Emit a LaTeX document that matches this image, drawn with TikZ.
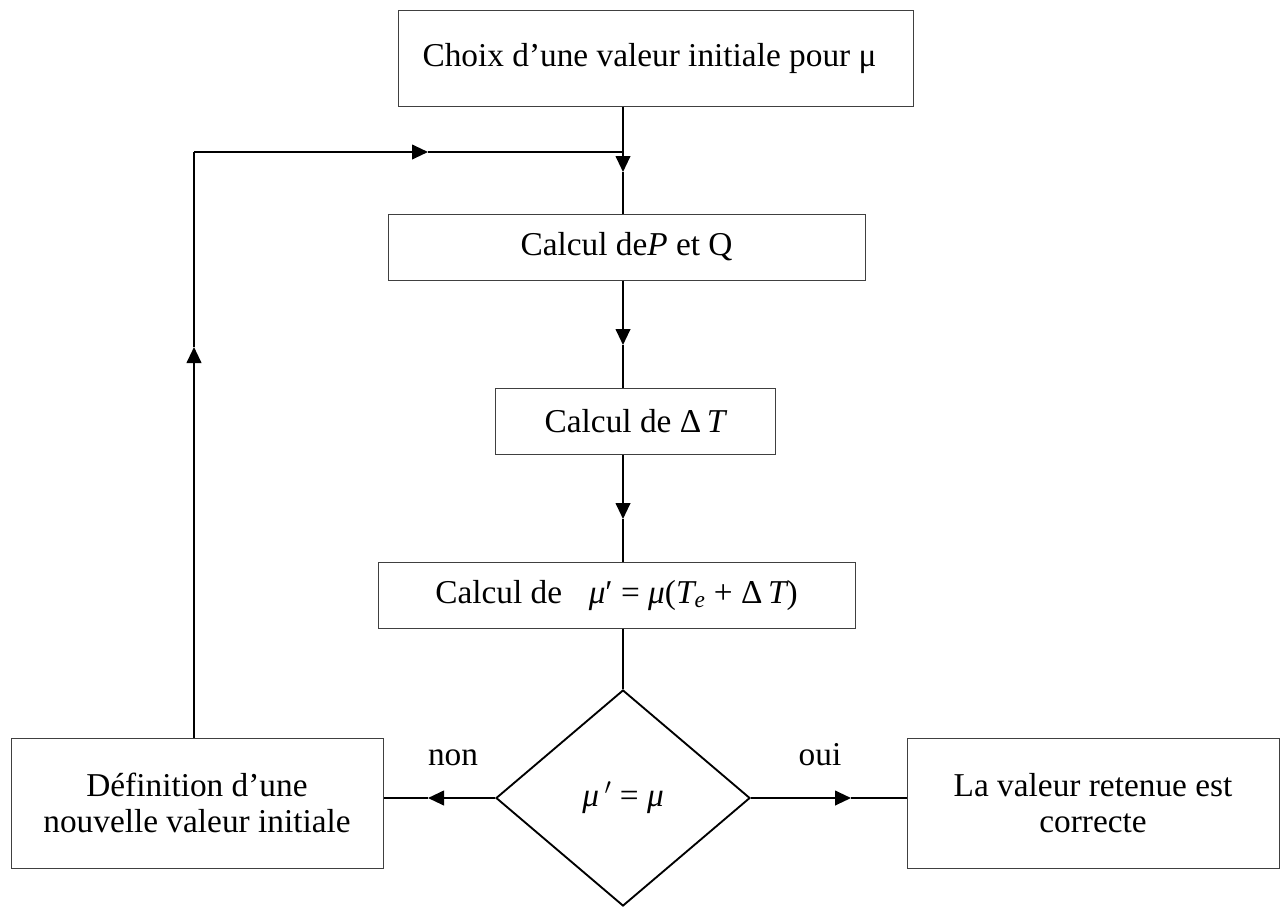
\documentclass[tikz,border=0pt]{standalone}
\usepackage{fontspec}
\setmainfont{Liberation Serif}
\usetikzlibrary{arrows.meta,shapes.geometric}
\definecolor{boxgray}{HTML}{404040}
\tikzset{
  boxnode/.style={draw=boxgray, line width=0.75pt, inner sep=0pt, align=center,
    font=\fontsize{25}{27}\selectfont},
  decnode/.style={draw=black, shape=diamond, line width=1.4pt, inner sep=0pt,
    minimum width=190.5pt, minimum height=162pt, font=\fontsize{25}{27}\selectfont},
  flow/.style={line width=1.5pt, -{Triangle[length=12pt,width=11pt]}},
  link/.style={line width=1pt},
  lbl/.style={inner sep=0pt, font=\fontsize{25}{27}\selectfont}
}
\begin{document}
\begin{tikzpicture}[x=0.75pt,y=-0.75pt]
\useasboundingbox (0,0) rectangle (1284,907);
% boxes
\node[boxnode, minimum width=386.25pt, minimum height=72pt] (b1) at (655.5,58)
  {\hspace*{-9pt}Choix d’une valeur initiale pour μ};
\node[boxnode, minimum width=357.75pt, minimum height=49.5pt] (b2) at (626.5,247)
  {Calcul de{\itshape P} et Q};
\node[boxnode, minimum width=210pt, minimum height=49.5pt] (b3) at (635,421)
  {Calcul de Δ\,{\itshape T}};
\node[boxnode, minimum width=357.75pt, minimum height=49.5pt] (b4) at (616.5,595)
  {Calcul de\hspace{0.55em} {\itshape μ}′ = {\itshape μ}({\itshape T}\textsubscript{\itshape e} + Δ\,{\itshape T})};
\node[decnode] (dec) at (623,798) {{\itshape μ}\,$^{\prime}$ = {\itshape μ}};
\node[boxnode, minimum width=279pt, minimum height=97.5pt] (bl) at (197,803)
  {Définition d’une\\nouvelle valeur initiale};
\node[boxnode, minimum width=279pt, minimum height=97.5pt] (br) at (1093,803)
  {La valeur retenue est\\correcte};
% labels
\node[lbl, anchor=base] (non) at (453,765) {non};
\node[lbl, anchor=base] (oui) at (820,765) {oui};
% helper coordinates
\coordinate (sx) at (623,0);
\coordinate (lx) at (194,0);
\coordinate (a1) at (623,172);
\coordinate (a2) at (623,345);
\coordinate (a3) at (623,519);
\coordinate (aL) at (428,798);
\coordinate (aR) at (851,798);
\coordinate (aU) at (194,347);
\coordinate (c) at (194,152);
\coordinate (aH) at (428,152);
\coordinate (j) at (623,152);
% connectors
\draw[flow] (b1.south -| sx) -- (a1);
\draw[link] (a1) -- (b2.north -| sx);
\draw[flow] (b2.south -| sx) -- (a2);
\draw[link] (a2) -- (b3.north -| sx);
\draw[flow] (b3.south -| sx) -- (a3);
\draw[link] (a3) -- (b4.north -| sx);
\draw[link] (b4.south -| sx) -- (dec.north);
\draw[flow] (dec.west) -- (aL);
\draw[link] (aL) -- (aL -| bl.east);
\draw[flow] (dec.east) -- (aR);
\draw[link] (aR) -- (aR -| br.west);
\draw[flow] (bl.north -| lx) -- (aU);
\draw[link] (aU) -- (c);
\draw[flow] (c) -- (aH);
\draw[link] (aH) -- (j);
\end{tikzpicture}
\end{document}
